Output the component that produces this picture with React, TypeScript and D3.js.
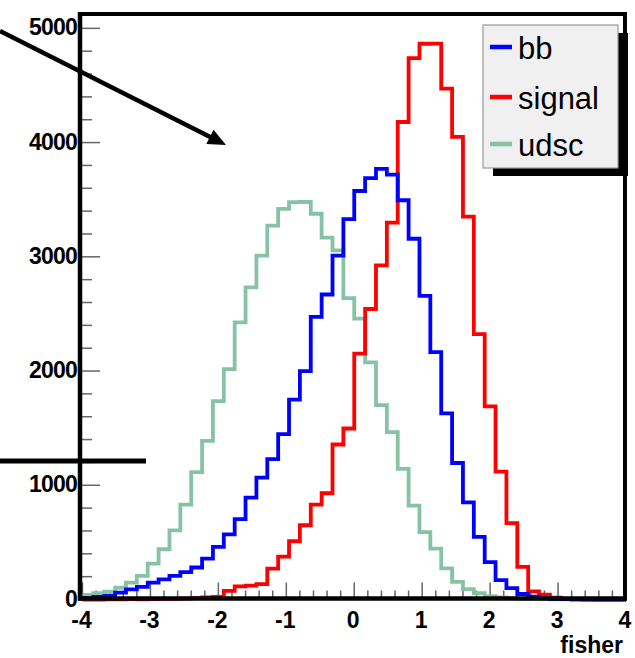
import React from "react";
import * as d3 from "d3";

// ---- data (50 bins from -4 to 4, width 0.16) ----
const xMin = -4;
const xMax = 4;
const nBins = 50;
const seriesNames = ["bb", "signal", "udsc"];
const seriesColors = ["#0000ff", "#ff0000", "#86c3a4"];

const bbValues = [
  12, 22, 31, 60, 89, 110, 147, 177, 206, 240,
  280, 358, 460, 571, 703, 892, 1067, 1229, 1448, 1750,
  2000, 2475, 2670, 3010, 3330, 3576, 3688, 3770, 3720, 3495,
  3158, 2658, 2165, 1630, 1195, 850, 548, 328, 170, 100,
  48, 24, 12, 6, 3, 1, 0, 0, 0, 0,
];
const signalValues = [
  0, 0, 1, 2, 3, 2, 4, 5, 6, 8,
  12, 18, 22, 75, 115, 122, 135, 270, 375, 510,
  650, 830, 930, 1357, 1497, 2153, 2543, 2925, 3300, 4180,
  4740, 4865, 4866, 4473, 4050, 3352, 2324, 1690, 1120, 668,
  285, 72, 42, 16, 5, 2, 1, 0, 0, 0,
];
const udscValues = [
  40, 55, 68, 103, 147, 206, 314, 440, 606, 830,
  1115, 1389, 1737, 2017, 2426, 2733, 3010, 3273, 3420, 3478,
  3480, 3377, 3168, 3056, 2639, 2458, 2076, 1702, 1465, 1144,
  822, 590, 445, 272, 155, 90, 55, 30, 18, 10,
  6, 4, 3, 2, 1, 1, 1, 0, 0, 0,
];
const yMax = 5130;
const yTickValues = [0, 1000, 2000, 3000, 4000, 5000];
const xTickValues = [-4, -3, -2, -1, 0, 1, 2, 3, 4];
const xTitle = "fisher";

const W = 635;
const H = 658;
const FONT = "'Liberation Sans', Arial, Helvetica, sans-serif";

export default function App() {
  const left = 80;
  const right = 625;
  const top = 14;
  const bottom = 598.5;

  const x = d3.scaleLinear().domain([xMin, xMax]).range([82.5, 626]);
  const y = d3.scaleLinear().domain([0, yMax]).range([599.5, 13.5]);

  const binW = (xMax - xMin) / nBins;
  const edges = d3.range(nBins + 1).map((i) => xMin + i * binW);

  const stepLine = d3
    .line<[number, number]>()
    .x((d) => x(d[0]))
    .y((d) => y(d[1]))
    .curve(d3.curveStepAfter);

  const pathFor = (vals: number[]) => {
    const pts: [number, number][] = vals.map((v, i) => [edges[i], v]);
    pts.push([edges[nBins], vals[nBins - 1]]);
    return stepLine(pts) || "";
  };

  const allSeries = [bbValues, signalValues, udscValues];
  const drawOrder = [2, 1, 0];

  const yMinor = d3.range(0, yMax, 200);
  const xMinor = d3.range(xMin, xMax + 0.001, 0.2);

  // legend geometry
  const lgX = 483;
  const lgY = 25;
  const lgW = 135;
  const lgH = 143;
  const shadow = 8;
  const rowY = [47, 97, 144];

  // arrow
  const a0 = [0, 31];
  const tip = [226, 145];
  const dx = tip[0] - a0[0];
  const dy = tip[1] - a0[1];
  const len = Math.hypot(dx, dy);
  const ux = dx / len;
  const uy = dy / len;
  const headL = 18;
  const headW = 8;
  const bx = tip[0] - headL * ux;
  const by = tip[1] - headL * uy;
  const head = `${tip[0]},${tip[1]} ${bx - headW * uy},${by + headW * ux} ${bx + headW * uy},${by - headW * ux}`;

  return (
    <svg
      width={W}
      height={H}
      style={{ position: "absolute", left: 0, top: 0, background: "#fff" }}
      fontFamily={FONT}
    >
      <rect x={0} y={0} width={W} height={H} fill="#fff" />

      {/* y ticks */}
      {yMinor.map((v) => (
        <line
          key={"ym" + v}
          x1={left}
          x2={left + (v % 1000 === 0 ? 20 : 12)}
          y1={y(v)}
          y2={y(v)}
          stroke="#666"
          strokeWidth={1.5}
        />
      ))}
      {/* x ticks */}
      {xMinor.map((v, i) => {
        const major = Math.abs(v - Math.round(v)) < 1e-6;
        return (
          <line
            key={"xm" + i}
            x1={x(v)}
            x2={x(v)}
            y1={bottom}
            y2={bottom - (major ? 16 : 8)}
            stroke="#666"
            strokeWidth={1.5}
          />
        );
      })}

      {/* histograms */}
      {drawOrder.map((si) => (
        <path
          key={seriesNames[si]}
          d={pathFor(allSeries[si])}
          fill="none"
          stroke={seriesColors[si]}
          strokeWidth={3.8}
          strokeLinejoin="miter"
          strokeLinecap="butt"
        />
      ))}

      {/* frame */}
      <line x1={left} x2={left} y1={top - 2} y2={bottom + 2} stroke="#000" strokeWidth={4.5} />
      <line x1={left - 2} x2={right + 2} y1={bottom} y2={bottom} stroke="#000" strokeWidth={4.5} />
      <line x1={left - 2} x2={right + 2} y1={top} y2={top} stroke="#000" strokeWidth={4} />
      <line x1={right} x2={right} y1={top - 2} y2={bottom + 2} stroke="#000" strokeWidth={4} />

      {/* y tick labels */}
      {yTickValues.map((v) => (
        <text
          key={"yl" + v}
          x={77}
          y={y(v) - 1}
          textAnchor="end"
          dominantBaseline="central"
          fontSize={23}
          fontWeight="bold"
          letterSpacing={-0.8}
        >
          {v}
        </text>
      ))}
      {/* x tick labels */}
      {xTickValues.map((v) => (
        <text
          key={"xl" + v}
          x={x(v) - 1}
          y={628}
          textAnchor="middle"
          fontSize={23}
          fontWeight="bold"
        >
          {v}
        </text>
      ))}
      <text x={623} y={653} textAnchor="end" fontSize={23} fontWeight="bold">
        {xTitle}
      </text>

      {/* legend */}
      <rect x={lgX + shadow + 2} y={lgY + shadow} width={lgW} height={lgH} fill="#000" />
      <rect x={lgX} y={lgY} width={lgW} height={lgH} fill="#f0f0f0" stroke="#999" strokeWidth={1.2} />
      {seriesNames.map((n, i) => (
        <g key={"lg" + n}>
          <line
            x1={lgX + 7}
            x2={lgX + 29}
            y1={rowY[i]}
            y2={rowY[i]}
            stroke={seriesColors[i]}
            strokeWidth={4.5}
          />
          <text x={lgX + 35} y={rowY[i] + 12} fontSize={31} fill="#000">
            {n}
          </text>
        </g>
      ))}

      {/* annotations */}
      <line x1={a0[0]} y1={a0[1]} x2={bx + 2 * ux} y2={by + 2 * uy} stroke="#000" strokeWidth={4.5} />
      <polygon points={head} fill="#000" />
      <line x1={0} x2={146} y1={461} y2={461} stroke="#000" strokeWidth={5} />
    </svg>
  );
}
